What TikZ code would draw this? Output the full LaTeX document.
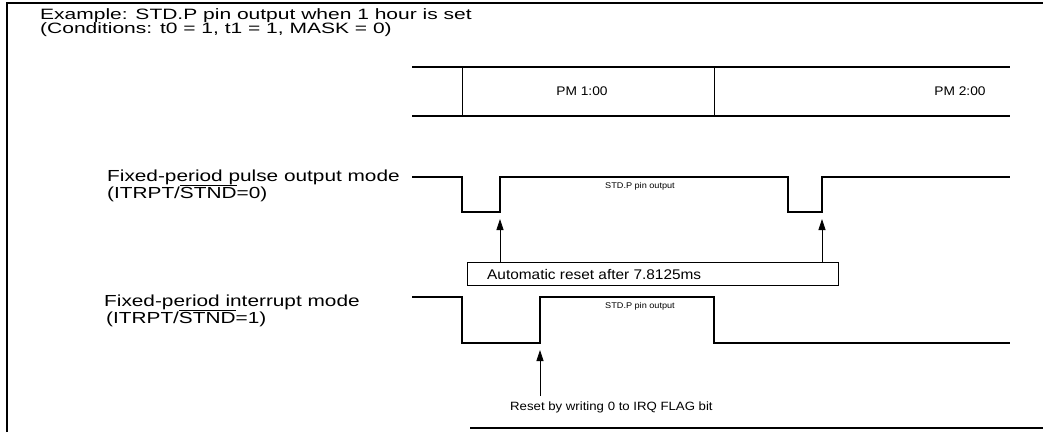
\documentclass[tikz,border=0pt]{standalone}
\usepackage{fontspec}
\setmainfont{Liberation Sans}
\newfontfamily\ttlfont[FakeStretch=1.4]{Liberation Sans}
\newfontfamily\labfont[FakeStretch=1.3]{Liberation Sans}
\newfontfamily\txtfont[FakeStretch=1.1]{Liberation Sans}
\usetikzlibrary{arrows.meta}
\begin{document}
\begin{tikzpicture}[x=1pt,y=-1pt,
  wave/.style={line width=2.4pt,line join=miter},
  tl/.style={line width=2.4pt},
  tick/.style={line width=0.9pt},
  frame/.style={line width=1.6pt},
  ttl/.style={font=\ttlfont\fontsize{15}{17}\selectfont,anchor=base west,inner sep=0pt},
  lab/.style={font=\labfont\fontsize{16}{18}\selectfont,anchor=base west,inner sep=0pt},
  small/.style={font=\txtfont\fontsize{8.3}{10}\selectfont,inner sep=0pt},
  upar/.style={line width=0.8pt,-{Triangle[length=11pt,width=7pt]}},
  resetbox/.style={draw,line width=0.9pt,minimum width=371pt,minimum height=23pt,inner sep=0pt}
]
\useasboundingbox (0,0) rectangle (1043,432);
% frame
\draw[frame] (7,432) -- (7,3) -- (1043,3);
\draw[frame] (470,428) -- (1043,428);
% title
\node[ttl] (t1) at (40,19) {Example: STD.P pin output when 1 hour is set};
\node[ttl] (t2) at (40,33) {(Conditions: t0 = 1, t1 = 1, MASK = 0)};
% timeline
\draw[tl] (412,67) -- (1010,67);
\draw[tl] (412,116) -- (1010,116);
\draw[tick] (462,67) -- (462,116);
\draw[tick] (714,67) -- (714,116);
\node[font=\txtfont\fontsize{12.5}{15}\selectfont] (pm1) at (582,91) {PM 1:00};
\node[font=\txtfont\fontsize{12.5}{15}\selectfont] (pm2) at (960,91) {PM 2:00};
% pulse mode
\node[lab] (m1a) at (107,181) {Fixed-period pulse output mode};
\node[lab] (m1b) at (107,198) {(ITRPT/$\overline{\mbox{STND}}$=0)};
\draw[wave] (412,177) -- (462,177) -- (462,212) -- (500,212) -- (500,177)
  -- (788,177) -- (788,212) -- (822,212) -- (822,177) -- (1010,177);
\coordinate (p1) at (500,219);
\coordinate (p2) at (822,219);
\node[small] (s1) at (640,186) {STD.P pin output};
\node[resetbox] (box) at (652.5,273.5) {};
\node[font=\txtfont\fontsize{14}{16}\selectfont,anchor=west,inner sep=0pt] (boxt) at (487,274) {Automatic reset after 7.8125ms};
\draw[upar] (p1 |- box.north) -- (p1);
\draw[upar] (p2 |- box.north) -- (p2);
% interrupt mode
\node[lab] (m2a) at (104,306) {Fixed-period interrupt mode};
\node[lab] (m2b) at (106,323) {(ITRPT/$\overline{\mbox{STND}}$=1)};
\draw[wave] (412,297) -- (462,297) -- (462,343) -- (540,343) -- (540,297)
  -- (714,297) -- (714,343) -- (1010,343);
\node[small] (s2) at (640,306) {STD.P pin output};
\coordinate (p3) at (540,350);
\node[font=\txtfont\fontsize{12}{14}\selectfont,anchor=west,inner sep=0pt] (rst) at (510,407) {Reset by writing 0 to IRQ FLAG bit};
\draw[upar] (540,396) -- (p3);
\end{tikzpicture}
\end{document}
